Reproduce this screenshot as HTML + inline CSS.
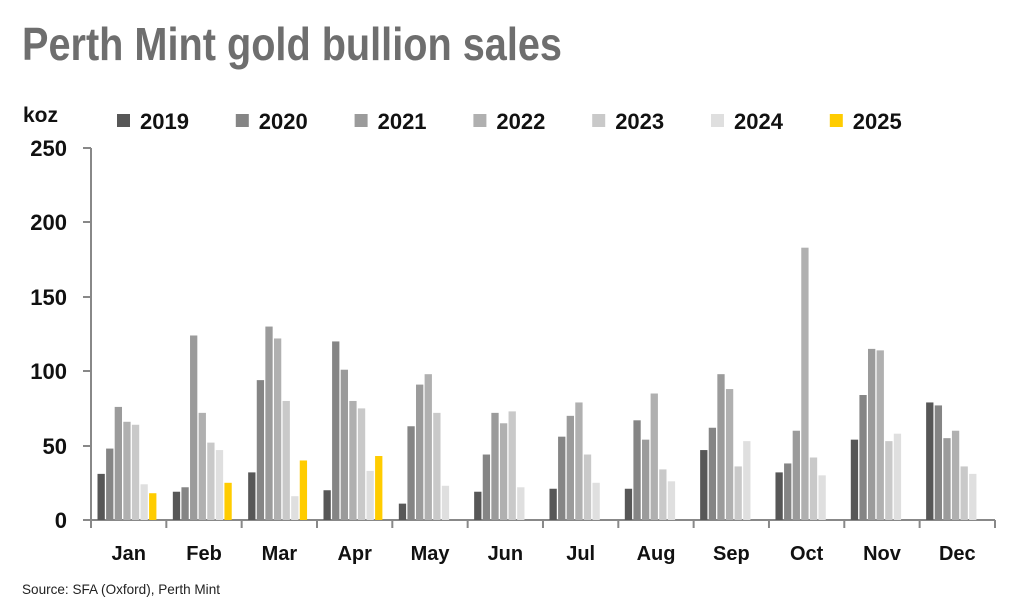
<!DOCTYPE html><html><head><style>body{margin:0;background:#fff}svg{display:block}</style></head><body>
<svg width="1024" height="603" xmlns="http://www.w3.org/2000/svg" font-family="Liberation Sans, sans-serif">
<text x="22" y="60" font-size="46" font-weight="bold" fill="#6e6e6e" textLength="540" lengthAdjust="spacingAndGlyphs">Perth Mint gold bullion sales</text>
<text x="23" y="122" font-size="21" font-weight="bold" fill="#111">koz</text>
<g id="leg"></g>
<g font-size="22" font-weight="bold" fill="#111" text-anchor="end">
<text x="67" y="156">250</text><text x="67" y="230">200</text><text x="67" y="305">150</text><text x="67" y="379">100</text><text x="67" y="454">50</text><text x="67" y="528">0</text></g>
<g stroke="#888" stroke-width="2" fill="none">
<line x1="91" y1="148" x2="91" y2="521"/><line x1="90" y1="520" x2="995" y2="520"/>
<line x1="83" y1="148" x2="91" y2="148"/><line x1="83" y1="222" x2="91" y2="222"/><line x1="83" y1="297" x2="91" y2="297"/><line x1="83" y1="371" x2="91" y2="371"/><line x1="83" y1="446" x2="91" y2="446"/><line x1="83" y1="520" x2="91" y2="520"/>
</g>
<g id="bars"></g>
<text x="22" y="594" font-size="14" fill="#222" textLength="198" lengthAdjust="spacingAndGlyphs">Source: SFA (Oxford), Perth Mint</text>
<script>
var ns="http://www.w3.org/2000/svg";
var cols=["#575757","#858585","#9b9b9b","#b0b0b0","#c9c9c9","#dfdfdf","#ffcc00"];
var yrs=["2019","2020","2021","2022","2023","2024","2025"];
var L=document.getElementById("leg");
yrs.forEach(function(y,i){var x=117+i*118.8;var r=document.createElementNS(ns,"rect");r.setAttribute("x",x);r.setAttribute("y",114);r.setAttribute("width",13);r.setAttribute("height",13);r.setAttribute("fill",cols[i]);L.appendChild(r);
var t=document.createElementNS(ns,"text");t.setAttribute("x",x+23);t.setAttribute("y",129);t.setAttribute("font-size","22");t.setAttribute("font-weight","bold");t.setAttribute("fill","#111");t.textContent=y;L.appendChild(t);});
var d=[[31,48,76,66,64,24,18],[19,22,124,72,52,47,25],[32,94,130,122,80,16,40],[20,120,101,80,75,33,43],[11,63,91,98,72,23],[19,44,72,65,73,22],[21,56,70,79,44,25],[21,67,54,85,34,26],[47,62,98,88,36,53],[32,38,60,183,42,30],[54,84,115,114,53,58],[79,77,55,60,36,31]];
var m=["Jan","Feb","Mar","Apr","May","Jun","Jul","Aug","Sep","Oct","Nov","Dec"];
var B=document.getElementById("bars");
d.forEach(function(g,gi){var gx=91+gi*75.33;
var tk=document.createElementNS(ns,"line");tk.setAttribute("x1",gx);tk.setAttribute("x2",gx);tk.setAttribute("y1",520);tk.setAttribute("y2",528);tk.setAttribute("stroke","#888");tk.setAttribute("stroke-width","2");B.appendChild(tk);
g.forEach(function(v,i){var h=v*1.488;var r=document.createElementNS(ns,"rect");r.setAttribute("x",gx+6.5+i*8.6);r.setAttribute("y",520-h);r.setAttribute("width",7.3);r.setAttribute("height",h);r.setAttribute("fill",cols[i]);B.appendChild(r);});
var t=document.createElementNS(ns,"text");t.setAttribute("x",gx+37.7);t.setAttribute("y",560);t.setAttribute("text-anchor","middle");t.setAttribute("font-size","20");t.setAttribute("font-weight","bold");t.setAttribute("fill","#111");t.textContent=m[gi];B.appendChild(t);});
var tk=document.createElementNS(ns,"line");tk.setAttribute("x1",995);tk.setAttribute("x2",995);tk.setAttribute("y1",520);tk.setAttribute("y2",528);tk.setAttribute("stroke","#888");tk.setAttribute("stroke-width","2");B.appendChild(tk);
</script>
</svg></body></html>
